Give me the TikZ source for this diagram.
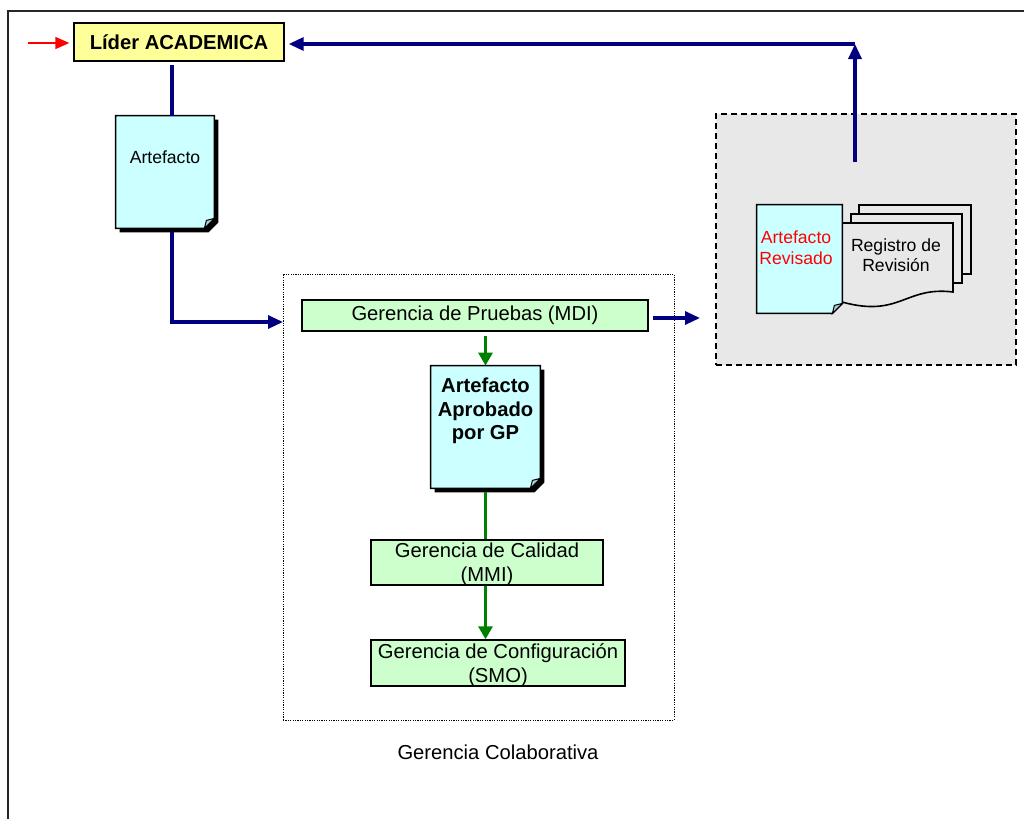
\documentclass[tikz,border=0pt]{standalone}
\usepackage{fontspec}
\setmainfont{Liberation Sans}
\usetikzlibrary{arrows.meta,positioning,backgrounds}

\definecolor{navy}{RGB}{0,0,128}
\definecolor{dkgreen}{RGB}{0,128,0}
\definecolor{paleyellow}{RGB}{255,255,153}
\definecolor{palecyan}{RGB}{204,255,255}
\definecolor{palegreen}{RGB}{204,255,204}
\definecolor{palegray}{RGB}{232,232,232}
\definecolor{foldcol}{RGB}{170,210,210}

\tikzset{
  docpath/.style={insert path={(#1.north west) -- (#1.north east) -- ([yshift=5pt]#1.south east)
      -- ([xshift=-5pt]#1.south east) -- (#1.south west) -- cycle}},
  docfold/.style={insert path={([xshift=-5pt]#1.south east) -- ([yshift=5pt]#1.south east)
      -- ([shift={(-4pt,4pt)}]#1.south east) -- cycle}},
}

\begin{document}
\begin{tikzpicture}[x=0.5pt,y=-0.5pt,
  font=\fontsize{10.1}{11.8}\selectfont,
  box/.style={draw, line width=0.7pt, inner sep=0pt, align=center},
  lidbox/.style={box, fill=paleyellow, font=\fontsize{10.1}{11.8}\selectfont\bfseries},
  gerbox/.style={box, fill=palegreen, font=\fontsize{10.1}{12}\selectfont},
  docbox/.style={inner sep=0pt},
  smalltxt/.style={align=center, font=\fontsize{8.8}{10.5}\selectfont},
  revbox/.style={draw, fill=palegray, line width=0.9pt, dash pattern=on 3pt off 2pt},
  colbox/.style={draw, line width=0.5pt, dash pattern=on 0.6pt off 0.6pt},
  page/.style={draw, fill=palegray, line width=0.8pt},
  bluearrow/.style={navy, line width=1.6pt, -{Triangle[length=7.5pt,width=6.5pt]}},
  blueline/.style={navy, line width=1.6pt},
  greenarrow/.style={dkgreen, line width=1.5pt, -{Triangle[length=6.5pt,width=7pt]}},
  greenline/.style={dkgreen, line width=1.5pt},
  redarrow/.style={red, line width=0.8pt, -{Triangle[length=7pt,width=6pt]}}]
\useasboundingbox (0,0) rectangle (1024,819);

% outer frame
\draw[line width=1pt, black!85] (8,11) rectangle (1060,860);

% leader
\node[lidbox, minimum width=105pt, minimum height=19pt] (lid) at (179,42) {Líder ACADEMICA};
\coordinate (redin) at (28,43);
\draw[redarrow, shorten >=2pt] (redin) -- (redin -| lid.west);

% artefact
\node[docbox, minimum width=49pt, minimum height=56pt] (art) at (165,172) {};
\node[smalltxt] (arttxt) at ([yshift=-21pt]art.north) {Artefacto};

% collaborative management
\node[colbox, minimum width=195.5pt, minimum height=223pt] (col) at (478.5,497) {};
\node (coltxt) at (498,752) {Gerencia Colaborativa};

\node[gerbox, minimum width=173pt, minimum height=15.5pt] (pru) at (475,315.5) {Gerencia de Pruebas (MDI)};
\node[docbox, minimum width=54.5pt, minimum height=61pt] (apr) at (485.5,427) {};
\node[align=center, font=\fontsize{10.1}{11.75}\selectfont\bfseries] (aprtxt) at ([yshift=8pt]apr.center) {Artefacto\\Aprobado\\por GP};
\node[gerbox, text depth=-3.5pt, minimum width=116pt, minimum height=22.5pt] (cal) at (487,562.5) {Gerencia de Calidad\\(MMI)};
\node[gerbox, text depth=-3.5pt, minimum width=127pt, minimum height=23pt] (cfg) at (498,663) {Gerencia de Configuración\\(SMO)};

% review
\node[docbox, minimum width=42.5pt, minimum height=54pt] (rvd) at (799.5,259) {};
\node[smalltxt, red] (rvdtxt) at (796,247.5) {Artefacto\\Revisado};
\node[smalltxt, font=\fontsize{8.8}{10}\selectfont] (reg) at (896,255) {Registro de\\Revisión};

\begin{scope}[on background layer]
\node[revbox, minimum width=150pt, minimum height=125.5pt] (rev) at (866,239.5) {};
\filldraw[page] (859,205) rectangle (971,274);
\filldraw[page] (851,214) rectangle (962,283);
\filldraw[page] (835,223) -- (953,223) -- (953,292) .. controls (905,286) and (900,318) .. (842,302) -- (835,300) -- cycle;
% documents
\fill[black, transform canvas={shift={(2pt,-2pt)}}, docpath=art];
\filldraw[fill=palecyan, line width=0.7pt, docpath=art];
\filldraw[fill=foldcol, line width=0.5pt, docfold=art];
\fill[black, transform canvas={shift={(2pt,-2pt)}}, docpath=apr];
\filldraw[fill=palecyan, line width=0.7pt, docpath=apr];
\filldraw[fill=foldcol, line width=0.5pt, docfold=apr];
\filldraw[fill=palecyan, line width=0.7pt, docpath=rvd];
\filldraw[fill=foldcol, line width=0.5pt, docfold=rvd];
\end{scope}

% connectors
\draw[blueline, shorten >=1.5pt] ([xshift=3.5pt]art.north) -- ([xshift=3.5pt]art.north |- lid.south);
\coordinate (colin) at (283,322);
\draw[bluearrow] ([xshift=3.5pt,yshift=-2pt]art.south) |- (colin);
\coordinate (revin) at (700,318);
\draw[bluearrow, shorten <=2pt] (pru.east |- revin) -- (revin);
\coordinate (revout) at (855,162);
\coordinate (corner) at (855,44);
\draw[bluearrow] (revout) -- (corner);
\draw[bluearrow, shorten >=2pt] (corner) -- (corner -| lid.east);

\draw[greenarrow, shorten <=2pt] (apr.north |- pru.south) -- (apr.north);
\draw[greenline, shorten <=2pt] (apr.south) -- (apr.south |- cal.north);
\draw[greenarrow] (apr.south |- cal.south) -- (apr.south |- cfg.north);
\end{tikzpicture}
\end{document}
